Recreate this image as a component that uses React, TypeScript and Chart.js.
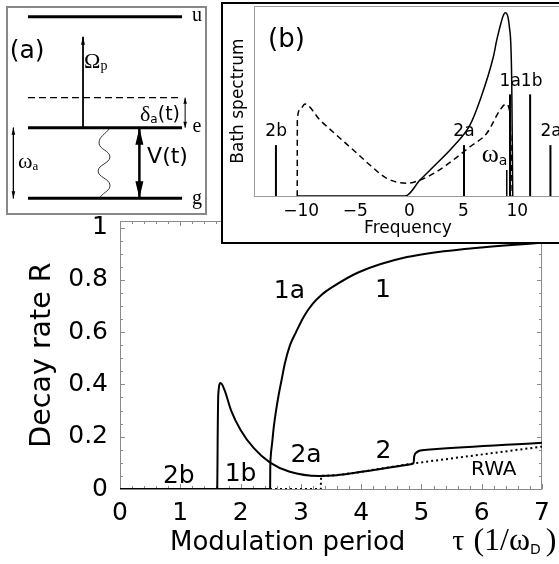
import React, { useEffect, useRef } from 'react';
import { Chart, registerables } from 'chart.js';

Chart.register(...registerables);

const SANS = '"DejaVu Sans", "Liberation Sans", sans-serif';
const SERIF = '"Liberation Serif", "DejaVu Serif", serif';

// ---------------- Main panel: decay rate vs modulation period ----------------
const mainXTicks = [0, 1, 2, 3, 4, 5, 6, 7];
const mainYTicks = [0, 0.2, 0.4, 0.6, 0.8, 1];

const tau1 = [0, 2.49, 2.492, 2.5, 2.523, 2.545, 2.582, 2.626, 2.68, 2.735, 2.82, 2.92, 3.05, 3.195, 3.35, 3.52, 3.95, 4.76, 5.85, 7.0];
const rate1 = [0, 0, 0.073, 0.124, 0.175, 0.226, 0.29, 0.353, 0.417, 0.481, 0.55, 0.6, 0.66, 0.708, 0.744, 0.772, 0.828, 0.887, 0.921, 0.942];

const tau2 = [0, 1.613, 1.62, 1.63, 1.668, 1.733, 1.84, 2.0, 2.22, 2.49, 2.815, 3.3, 3.6, 3.9, 4.845, 4.87, 4.88, 4.92, 4.98, 5.2, 7.0];
const rate2 = [0, 0, 0.2, 0.36, 0.405, 0.379, 0.302, 0.226, 0.156, 0.101, 0.066, 0.05, 0.053, 0.062, 0.096, 0.1, 0.125, 0.14, 0.147, 0.152, 0.177];

const tauRWA = [0, 3.33, 3.335, 3.6, 3.9, 4.87, 7.0];
const rateRWA = [0, 0, 0.05, 0.053, 0.062, 0.098, 0.162];

const mainLabelText = ['2b', '1b', '2a', '1a', '1', '2', 'RWA'];
const mainLabelTau = [0.975, 2.0, 3.085, 2.81, 4.36, 4.37, 6.2];
const mainLabelRate = [0.046, 0.054, 0.13, 0.754, 0.76, 0.145, 0.075];

// ---------------- Inset (b): bath spectrum ----------------
const bTicks = [-10, -5, 0, 5, 10];
const freqSolid = [-10, 0, 1.36, 2.6, 4.44, 5.99, 6.92, 8.15, 8.46, 8.93, 9.07, 9.23, 9.63, 9.85, 9.94];
const specSolid = [0, 0, 0.084, 0.154, 0.26, 0.374, 0.505, 0.733, 0.82, 0.926, 0.95, 0.965, 0.89, 0.595, 0];
const freqDash = [-10, -9.99, -9.75, -9.29, -7.9, -6.35, -4.81, -3.27, -1.72, 0.13, 1.36, 2.9, 4.44, 6.0, 7.54, 8.77, 9.32, 9.63, 9.75, 9.9];
const specDash = [0, 0.4, 0.453, 0.484, 0.4, 0.32, 0.242, 0.163, 0.093, 0.067, 0.084, 0.128, 0.19, 0.26, 0.33, 0.453, 0.484, 0.453, 0.33, 0];
const bandNames = ['2b', '2a', 'ωa', '1a', '1b', '2a'];
const bandFreq = [-11.97, 5.43, 9.39, 9.69, 11.55, 13.43];
const bandHeight = [0.268, 0.268, 0.137, 0.535, 0.535, 0.268];

// ---------------- Inset (a): level scheme ----------------
const levelNames = ['u', 'e', 'g'];
const levelEnergy = [2.572, 1, 0];
const virtualEnergy = 1.425;
const levelSpan = [0, 1];
const omegaPX = 0.357;
const omegaPTop = 2.289;
const couplingX = 0.723;
const omegaAX = -0.095;
const deltaX = 1.02;
const waveX = [0.532, 0.461, 0.532, 0.455, 0.532, 0.468];
const waveY = [0.996, 0.783, 0.585, 0.387, 0.188, 0.018];

const pts = (xs: number[], ys: number[]) => xs.map((x, i) => ({ x, y: ys[i] }));

// ---------------- plugins ----------------
function drawParts(ctx: CanvasRenderingContext2D, parts: any[], x: number, y: number, align: string) {
  const widths = parts.map((p) => {
    ctx.font = p.f;
    return ctx.measureText(p.t).width + (p.dx || 0);
  });
  const total = widths.reduce((a, b) => a + b, 0);
  let cx = align === 'center' ? x - total / 2 : align === 'right' ? x - total : x;
  parts.forEach((p, i) => {
    ctx.font = p.f;
    ctx.textAlign = 'left';
    ctx.fillText(p.t, cx + (p.dx || 0), y + (p.dy || 0));
    cx += widths[i];
  });
}

const richTextPlugin = {
  id: 'richText',
  afterDatasetsDraw(chart: any, _args: any, opts: any) {
    const items = (opts && opts.items) || [];
    const ctx = chart.ctx;
    const xs = chart.scales.x;
    const ys = chart.scales.y;
    const a = chart.chartArea;
    ctx.save();
    ctx.fillStyle = '#000';
    for (const it of items) {
      let px, py;
      if (it.area) {
        px = a.left + it.x;
        py = a.bottom + it.y;
      } else {
        px = xs.getPixelForValue(it.x);
        py = ys.getPixelForValue(it.y);
      }
      ctx.textBaseline = it.baseline || 'middle';
      drawParts(ctx, it.parts, px, py, it.align || 'center');
    }
    ctx.restore();
  },
};

const frameTicksPlugin = {
  id: 'frameTicks',
  beforeDatasetsDraw(chart: any, _args: any, o: any) {
    if (!o || !o.enabled) return;
    const { ctx, chartArea: a } = chart;
    const xs = chart.scales.x;
    const ys = chart.scales.y;
    ctx.save();
    ctx.strokeStyle = o.color;
    ctx.lineWidth = 1;
    const line = (x1: number, y1: number, x2: number, y2: number) => {
      ctx.beginPath();
      ctx.moveTo(x1, y1);
      ctx.lineTo(x2, y2);
      ctx.stroke();
    };
    if (o.sides.includes('t')) line(a.left, a.top + 0.5, a.right, a.top + 0.5);
    if (o.sides.includes('b')) line(a.left, a.bottom + 0.5, a.right, a.bottom + 0.5);
    if (o.sides.includes('l')) line(a.left + 0.5, a.top, a.left + 0.5, a.bottom);
    if (o.sides.includes('r')) line(a.right - 0.5, a.top, a.right - 0.5, a.bottom);
    if (o.xMinor) {
      const n = Math.round((xs.max - xs.min) / o.xMinor);
      for (let i = 0; i <= n; i++) {
        const v = xs.min + i * o.xMinor;
        const p = Math.round(xs.getPixelForValue(v)) + 0.5;
        const r = v / o.xMajor;
        const L = Math.abs(r - Math.round(r)) < 1e-6 ? o.majorLen : o.minorLen;
        line(p, a.bottom, p, a.bottom - L);
        line(p, a.top, p, a.top + L);
      }
    }
    if (o.yMinor) {
      const n = Math.floor((ys.max - ys.min) / o.yMinor + 1e-6);
      for (let i = 0; i <= n; i++) {
        const v = ys.min + i * o.yMinor;
        const p = Math.round(ys.getPixelForValue(v)) + 0.5;
        const r = v / o.yMajor;
        const L = Math.abs(r - Math.round(r)) < 1e-6 ? o.majorLen : o.minorLen;
        line(a.left, p, a.left + L, p);
        line(a.right, p, a.right - L, p);
      }
    }
    ctx.restore();
  },
};

const arrowPlugin = {
  id: 'arrowHeads',
  afterDatasetsDraw(chart: any) {
    const ctx = chart.ctx;
    ctx.save();
    ctx.fillStyle = '#000';
    chart.data.datasets.forEach((ds: any, i: number) => {
      const head = ds.arrowHead;
      if (!head) return;
      const el = chart.getDatasetMeta(i).data;
      const tipDraw = (tip: any, from: any) => {
        const ang = Math.atan2(tip.y - from.y, tip.x - from.x);
        const L = head.length;
        const W = head.width;
        const bx = tip.x - L * Math.cos(ang);
        const by = tip.y - L * Math.sin(ang);
        ctx.beginPath();
        ctx.moveTo(tip.x, tip.y);
        ctx.lineTo(bx + W * Math.sin(ang), by - W * Math.cos(ang));
        ctx.lineTo(bx - W * Math.sin(ang), by + W * Math.cos(ang));
        ctx.closePath();
        ctx.fill();
      };
      if (head.end) tipDraw(el[el.length - 1], el[el.length - 2]);
      if (head.start) tipDraw(el[0], el[1]);
    });
    ctx.restore();
  },
};

const line = (data: any[], extra: any = {}) => ({
  data,
  borderColor: '#000',
  borderWidth: 2,
  pointRadius: 0,
  fill: false,
  tension: 0,
  ...extra,
});

// ---------------- components ----------------
function MainChart() {
  const ref = useRef<HTMLCanvasElement>(null);
  useEffect(() => {
    const items: any[] = mainLabelText.map((t, i) => ({
      x: mainLabelTau[i],
      y: mainLabelRate[i],
      parts: [{ t, f: `${t === 'RWA' ? 20 : 25}px ${SANS}` }],
    }));
    items.push({
      area: true,
      x: 50,
      y: 61,
      align: 'left',
      baseline: 'alphabetic',
      parts: [
        { t: 'Modulation period', f: `26px ${SANS}` },
        { t: 'τ', f: `30px ${SERIF}`, dx: 47 },
        { t: '(1/ω', f: `32px ${SERIF}`, dx: 9 },
        { t: 'D', f: `14px ${SANS}`, dy: 4 },
        { t: ')', f: `32px ${SERIF}`, dx: 5 },
      ],
    });
    const chart = new Chart(ref.current!, {
      type: 'line',
      data: {
        datasets: [
          line(pts(tau1, rate1), { cubicInterpolationMode: 'monotone' }),
          line(pts(tau2, rate2), { cubicInterpolationMode: 'monotone' }),
          line(pts(tauRWA, rateRWA), { borderDash: [2, 3] }),
        ],
      },
      options: {
        animation: false,
        responsive: false,
        devicePixelRatio: 1,
        layout: { padding: { top: 221, right: 8, left: 0, bottom: 0 } },
        plugins: {
          legend: { display: false },
          tooltip: { enabled: false },
          richText: { items },
          frameTicks: { enabled: true, color: '#8a8a8a', sides: 'tblr', xMinor: 0.2, xMajor: 1, yMinor: 0.05, yMajor: 0.2, minorLen: 3, majorLen: 5 },
        } as any,
        scales: {
          x: {
            type: 'linear',
            min: 0,
            max: 7,
            grid: { display: false, drawTicks: false },
            border: { display: false },
            afterFit: (s: any) => { s.height = 75; },
            afterBuildTicks: (s: any) => { s.ticks = mainXTicks.map((v) => ({ value: v })); },
            ticks: { font: { family: SANS, size: 25 }, color: '#000', padding: 9, maxRotation: 0, autoSkip: false, callback: (v: any) => String(v) },
          },
          y: {
            type: 'linear',
            min: 0,
            max: 1.025,
            grid: { display: false, drawTicks: false },
            border: { display: false },
            afterFit: (s: any) => { s.width = 120; },
            afterBuildTicks: (s: any) => { s.ticks = mainYTicks.map((v) => ({ value: v })); },
            ticks: { font: { family: SANS, size: 25 }, color: '#000', padding: 12, callback: (v: any) => String(Math.round(v * 10) / 10) },
            title: { display: true, text: 'Decay rate R', font: { family: SANS, size: 28.5 }, color: '#000', padding: { top: 25, bottom: 0 } },
          },
        },
      } as any,
      plugins: [frameTicksPlugin, richTextPlugin],
    });
    return () => chart.destroy();
  }, []);
  return <canvas ref={ref} width={559} height={564} style={{ position: 'absolute', left: 0, top: 0, width: 559, height: 564 }} />;
}

function InsetB() {
  const ref = useRef<HTMLCanvasElement>(null);
  useEffect(() => {
    const bands = bandFreq.map((f, i) =>
      line([{ x: f, y: 0 }, { x: f, y: bandHeight[i] }], { borderWidth: bandNames[i] === 'ωa' ? 1.5 : 2 })
    );
    const items: any[] = [
      { x: -11.0, y: 0.82, parts: [{ t: '(b)', f: `26px ${SANS}` }] },
      { x: -11.95, y: 0.34, parts: [{ t: '2b', f: `17px ${SANS}` }] },
      { x: 5.43, y: 0.34, parts: [{ t: '2a', f: `17px ${SANS}` }] },
      { x: 10.71, y: 0.6, parts: [{ t: '1a1b', f: `17px ${SANS}` }] },
      { x: 13.49, y: 0.34, parts: [{ t: '2a', f: `17px ${SANS}` }] },
      { x: 7.07, y: 0.216, align: 'left', parts: [{ t: 'ω', f: `26px ${SERIF}` }, { t: 'a', f: `14px ${SANS}`, dy: 6 }] },
    ];
    const chart = new Chart(ref.current!, {
      type: 'line',
      data: {
        datasets: [
          line(pts(freqSolid, specSolid), { borderWidth: 1.5, cubicInterpolationMode: 'monotone' }),
          line(pts(freqDash, specDash), { borderWidth: 1.5, borderDash: [6, 4], cubicInterpolationMode: 'monotone' }),
          ...bands,
        ],
      },
      options: {
        animation: false,
        responsive: false,
        devicePixelRatio: 1,
        layout: { padding: { top: 2, right: 1, left: 0, bottom: 0 } },
        plugins: {
          legend: { display: false },
          tooltip: { enabled: false },
          richText: { items },
          frameTicks: { enabled: true, color: '#9a9a9a', sides: 'tlb' },
        } as any,
        scales: {
          x: {
            type: 'linear',
            min: -14,
            max: 14.5,
            grid: { display: false, drawTicks: false },
            border: { display: false },
            afterFit: (s: any) => { s.height = 46; },
            afterBuildTicks: (s: any) => { s.ticks = bTicks.map((v) => ({ value: v })); },
            ticks: { font: { family: SANS, size: 17 }, color: '#000', padding: 5, labelOffset: 4, maxRotation: 0, autoSkip: false, callback: (v: any) => (v < 0 ? '\u2212' + Math.abs(v) : String(v)) },
            title: { display: true, text: 'Frequency', font: { family: SANS, size: 17 }, color: '#000', padding: { top: 0, bottom: 3 } },
          },
          y: {
            type: 'linear',
            min: 0,
            max: 1,
            grid: { display: false, drawTicks: false },
            border: { display: false },
            afterFit: (s: any) => { s.width = 31; },
            ticks: { display: false },
            title: { display: true, text: 'Bath spectrum', font: { family: SANS, size: 17 }, color: '#000', padding: { top: 5, bottom: 0 } },
          },
        },
      } as any,
      plugins: [frameTicksPlugin, richTextPlugin],
    });
    return () => chart.destroy();
  }, []);
  return (
    <div style={{ position: 'absolute', left: 221, top: 2, width: 340, height: 238, border: '2px solid #000', background: '#fff' }}>
      <canvas ref={ref} width={340} height={238} style={{ display: 'block', width: 340, height: 238 }} />
    </div>
  );
}

function InsetA() {
  const ref = useRef<HTMLCanvasElement>(null);
  useEffect(() => {
    const levels = levelEnergy.map((E) => line(levelSpan.map((x) => ({ x, y: E })), { borderWidth: 3 }));
    const items: any[] = [
      { x: -0.006, y: 2.086, parts: [{ t: '(a)', f: `25px ${SANS}` }] },
      { x: 0.364, y: 1.93, align: 'left', parts: [{ t: 'Ω', f: `22px ${SERIF}` }, { t: 'p', f: `14px ${SERIF}`, dy: 4 }] },
      { x: 0.727, y: 1.18, align: 'left', parts: [{ t: 'δ', f: `22px ${SERIF}` }, { t: 'a', f: `12px ${SANS}`, dy: 5 }, { t: '(t)', f: `19px ${SANS}` }] },
      { x: -0.065, y: 0.514, align: 'left', parts: [{ t: 'ω', f: `22px ${SERIF}` }, { t: 'a', f: `13px ${SERIF}`, dy: 5 }] },
      { x: 0.773, y: 0.585, align: 'left', parts: [{ t: 'V(t)', f: `22px ${SANS}` }] },
      ...levelNames.map((n, i) => ({ x: 1.097, y: levelEnergy[i] + (n === 'g' ? -0.01 : 0.02), parts: [{ t: n, f: `20px ${SERIF}` }] })),
    ];
    const chart = new Chart(ref.current!, {
      type: 'line',
      data: {
        datasets: [
          ...levels,
          line(levelSpan.map((x) => ({ x, y: virtualEnergy })), { borderWidth: 1.3, borderDash: [7, 4] }),
          line([{ x: omegaPX, y: levelEnergy[1] }, { x: omegaPX, y: omegaPTop }], { borderWidth: 1.8, arrowHead: { end: true, length: 8, width: 2 } }),
          line([{ x: couplingX, y: levelEnergy[1] }, { x: couplingX, y: levelEnergy[2] }], { borderWidth: 2.5, arrowHead: { start: true, end: true, length: 17, width: 4 } }),
          line([{ x: omegaAX, y: levelEnergy[1] }, { x: omegaAX, y: levelEnergy[2] }], { borderWidth: 1, arrowHead: { start: true, end: true, length: 7, width: 1.8 } }),
          line([{ x: deltaX, y: levelEnergy[1] }, { x: deltaX, y: virtualEnergy }], { borderWidth: 1, arrowHead: { start: true, end: true, length: 6, width: 1.8 } }),
          line(pts(waveX, waveY), { borderWidth: 1, tension: 0.45, borderColor: '#333' }),
        ],
      },
      options: {
        animation: false,
        responsive: false,
        devicePixelRatio: 1,
        layout: { padding: 0 },
        plugins: { legend: { display: false }, tooltip: { enabled: false }, richText: { items } } as any,
        scales: {
          x: { type: 'linear', display: false, min: -0.13, max: 1.149 },
          y: { type: 'linear', display: false, min: -0.208, max: 2.695 },
        },
      } as any,
      plugins: [arrowPlugin, richTextPlugin],
    });
    return () => chart.destroy();
  }, []);
  return (
    <div style={{ position: 'absolute', left: 6, top: 6, width: 197, height: 205, border: '2px solid #888', background: '#fff' }}>
      <canvas ref={ref} width={197} height={205} style={{ display: 'block', width: 197, height: 205 }} />
    </div>
  );
}

export default function App() {
  return (
    <div style={{ position: 'fixed', left: 0, top: 0, width: 559, height: 564, overflow: 'hidden', background: '#fff' }}>
      <MainChart />
      <InsetA />
      <InsetB />
    </div>
  );
}
